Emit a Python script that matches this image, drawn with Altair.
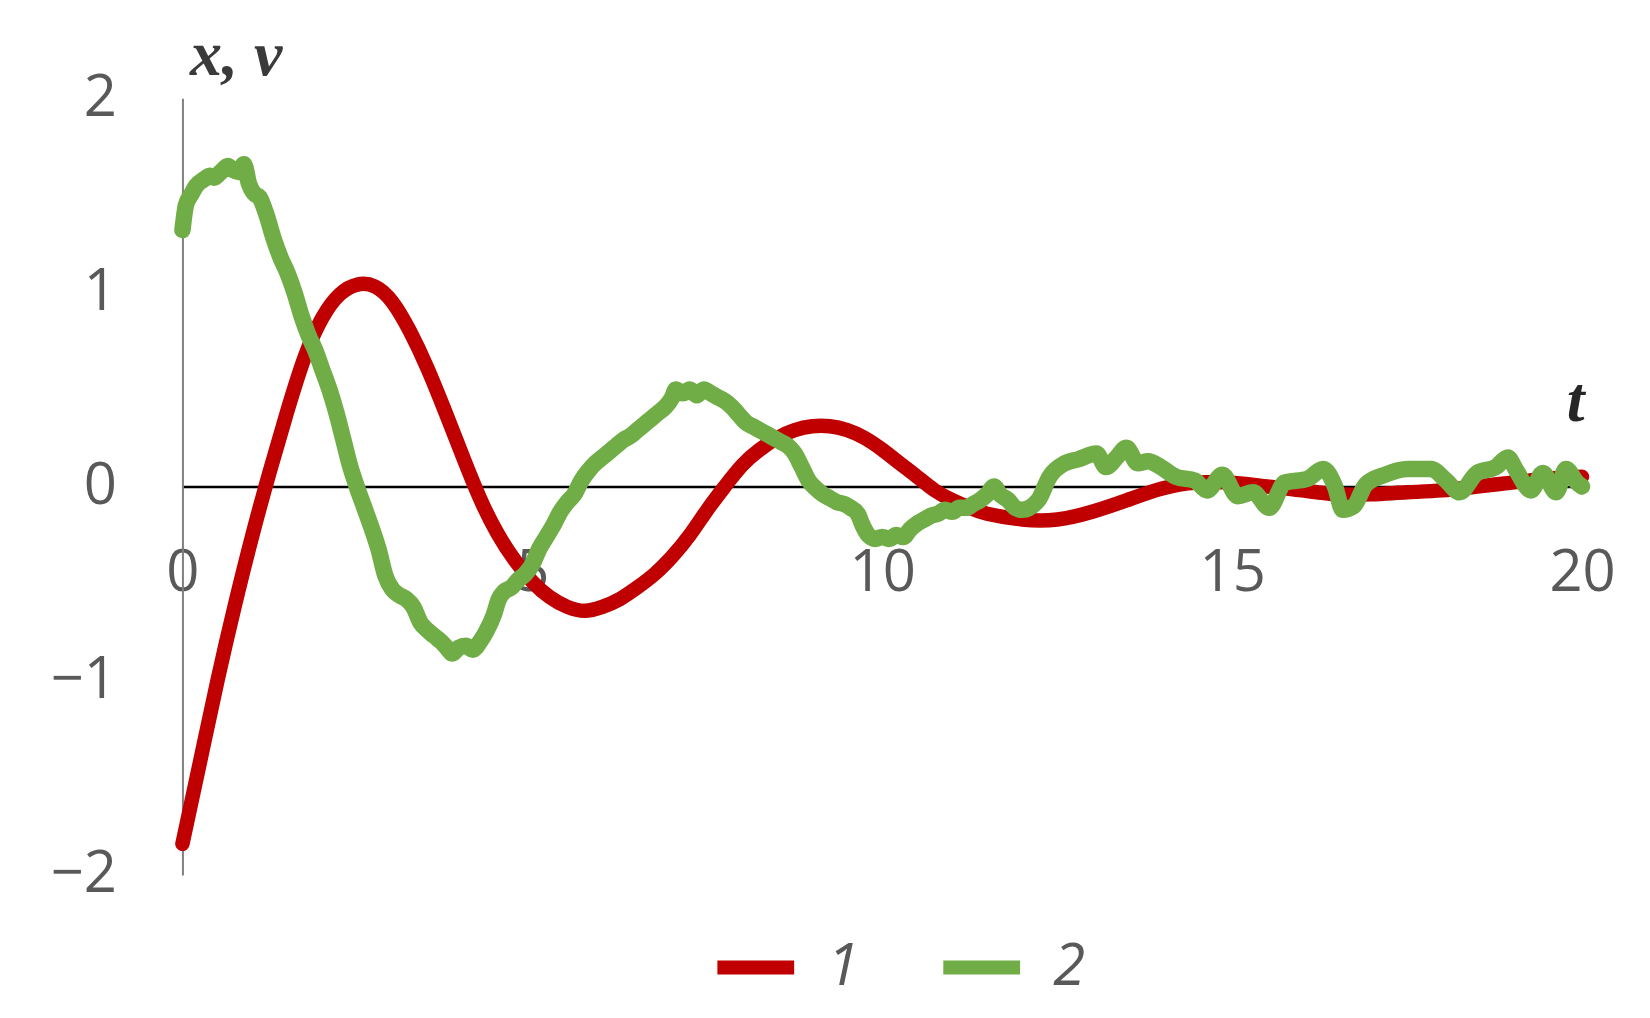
import altair as alt
import pandas as pd

# ---- data ----
red_t = [0.0, 0.25, 0.5, 0.75, 1.0, 1.25, 1.5, 1.75, 2.0, 2.25, 2.5, 2.75, 3.0, 3.25, 3.5,
         3.75, 4.0, 4.25, 4.5, 4.75, 5.0, 5.25, 5.5, 5.75, 6.0, 6.25, 6.5, 6.75, 7.0, 7.25,
         7.5, 7.75, 8.0, 8.25, 8.5, 8.75, 9.0, 9.25, 9.5, 9.75, 10.0, 10.25, 10.5, 10.75,
         11.0, 11.25, 11.5, 12.0, 12.5, 13.0, 13.5, 14.0, 14.5, 15.0, 15.5, 16.0, 16.5,
         17.0, 17.5, 18.0, 18.5, 19.0, 19.5, 20.0]
red_v = [-1.84, -1.42, -1.00, -0.61, -0.25, 0.08, 0.39, 0.67, 0.87, 0.99, 1.04, 1.03, 0.95,
         0.80, 0.61, 0.39, 0.16, -0.06, -0.24, -0.38, -0.49, -0.57, -0.62, -0.64, -0.62,
         -0.58, -0.52, -0.45, -0.36, -0.25, -0.12, 0.00, 0.11, 0.19, 0.25, 0.29, 0.31, 0.31,
         0.29, 0.25, 0.19, 0.12, 0.05, -0.02, -0.07, -0.11, -0.14, -0.17, -0.17, -0.13,
         -0.07, -0.01, 0.02, 0.02, 0.00, -0.02, -0.04, -0.04, -0.03, -0.02, 0.00, 0.02,
         0.04, 0.05]

green_t = [0.0, 0.05, 0.12, 0.2, 0.3, 0.4, 0.45, 0.55, 0.65, 0.72, 0.8, 0.88, 0.95, 1.02,
           1.1, 1.2, 1.3, 1.4, 1.5, 1.6, 1.7, 1.8, 1.9, 2.0, 2.1, 2.2, 2.3, 2.4, 2.5, 2.6,
           2.7, 2.8, 2.9, 3.0, 3.1, 3.2, 3.3, 3.4, 3.5, 3.6, 3.7, 3.8, 3.85, 3.95, 4.05,
           4.15, 4.25, 4.35, 4.45, 4.52, 4.6, 4.7, 4.8, 4.9, 5.0, 5.1, 5.2, 5.3, 5.4, 5.5,
           5.6, 5.7, 5.8, 5.9, 6.0, 6.1, 6.2, 6.3, 6.4, 6.5, 6.6, 6.7, 6.8, 6.9, 7.0, 7.05,
           7.15, 7.25, 7.35, 7.45, 7.55, 7.65, 7.75, 7.85, 7.95, 8.05, 8.15, 8.25, 8.35,
           8.45, 8.55, 8.65, 8.75, 8.85, 8.95, 9.05, 9.15, 9.25, 9.35, 9.45, 9.55, 9.65,
           9.72, 9.8, 9.9, 10.0, 10.1, 10.2, 10.3, 10.4, 10.5, 10.6, 10.7, 10.8, 10.9, 11.0,
           11.1, 11.2, 11.3, 11.4, 11.5, 11.6, 11.68, 11.8, 11.9, 12.0, 12.23, 12.39, 12.61,
           12.8, 13.06, 13.2, 13.35, 13.49, 13.65, 13.8, 13.98, 14.2, 14.47, 14.64, 14.86,
           15.08, 15.3, 15.53, 15.75, 16.08, 16.3, 16.47, 16.58, 16.74, 16.91, 17.18, 17.51,
           17.84, 18.06, 18.25, 18.5, 18.77, 18.94, 19.05, 19.27, 19.44, 19.63, 19.77,
           19.93, 20.0]
green_v = [1.32, 1.45, 1.50, 1.55, 1.58, 1.60, 1.59, 1.62, 1.65, 1.63, 1.62, 1.66, 1.56, 1.51,
           1.49, 1.40, 1.28, 1.18, 1.10, 1.00, 0.88, 0.78, 0.70, 0.60, 0.50, 0.38, 0.24, 0.10,
           -0.01, -0.11, -0.21, -0.32, -0.46, -0.53, -0.56, -0.58, -0.62, -0.70, -0.74, -0.77,
           -0.80, -0.84, -0.86, -0.83, -0.82, -0.84, -0.80, -0.74, -0.66, -0.58, -0.54, -0.52,
           -0.48, -0.45, -0.40, -0.32, -0.26, -0.20, -0.13, -0.08, -0.04, 0.03, 0.08, 0.12,
           0.15, 0.18, 0.21, 0.24, 0.26, 0.29, 0.32, 0.35, 0.38, 0.41, 0.46, 0.50, 0.48, 0.50,
           0.47, 0.50, 0.48, 0.46, 0.44, 0.41, 0.37, 0.33, 0.31, 0.29, 0.27, 0.25, 0.23, 0.21,
           0.17, 0.10, 0.03, -0.01, -0.04, -0.06, -0.08, -0.09, -0.11, -0.14, -0.20, -0.25,
           -0.27, -0.26, -0.27, -0.25, -0.26, -0.22, -0.19, -0.17, -0.15, -0.14, -0.12, -0.13,
           -0.11, -0.11, -0.09, -0.07, -0.04, 0.00, -0.04, -0.07, -0.11, -0.12, -0.07, 0.05,
           0.12, 0.14, 0.17, 0.10, 0.15, 0.20, 0.12, 0.13, 0.10, 0.05, 0.03, -0.02, 0.06,
           -0.05, -0.03, -0.11, 0.02, 0.04, 0.09, 0.00, -0.12, -0.10, 0.01, 0.06, 0.09, 0.09,
           0.03, -0.03, 0.07, 0.10, 0.15, 0.09, -0.02, 0.07, -0.03, 0.09, 0.02, 0.00]

series_names = ["1", "2"]
series_colors = ["#C00000", "#70AD47"]
x_ticks = [0, 5, 10, 15, 20]
y_ticks = [-2, -1, 0, 1, 2]

assert len(red_t) == len(red_v)
assert len(green_t) == len(green_v)

df_red = pd.DataFrame({"t": red_t, "v": red_v, "s": "1", "o": range(len(red_t))})
df_green = pd.DataFrame({"t": green_t, "v": green_v, "s": "2", "o": range(len(green_t))})

W, H = 1400, 777
LABEL_FONT = "Open Sans"
GRAY = "#595959"

x_enc = alt.X("t:Q",
              scale=alt.Scale(domain=[0, 20], nice=False),
              axis=alt.Axis(values=x_ticks, ticks=False, grid=False,
                            domainColor="#000000", domainWidth=2.5,
                            offset=-388.5, labelPadding=58, labelFlush=False,
                            labelOverlap=False, labelFont=LABEL_FONT, labelFontSize=58,
                            labelColor=GRAY,
                            title="t", titleFont="Liberation Serif", titleFontSize=64,
                            titleFontWeight="bold", titleFontStyle="italic",
                            titleColor="#262626", titleAngle=0,
                            titleX=1393, titleY=-66, titleAlign="center",
                            titleBaseline="alphabetic"))
y_enc = alt.Y("v:Q",
              scale=alt.Scale(domain=[-2, 2], nice=False, zero=False),
              axis=alt.Axis(values=y_ticks, ticks=False, grid=False,
                            domainColor="#808080", domainWidth=2,
                            labelPadding=66, labelFont=LABEL_FONT, labelFontSize=58,
                            labelColor=GRAY, labelBaseline="middle",
                            labelOverlap=False, labelFlush=False,
                            title="x, v", titleFont="Liberation Serif", titleFontSize=64,
                            titleFontWeight="bold", titleFontStyle="italic",
                            titleColor="#3a3a3a", titleAngle=0,
                            titleX=7, titleY=-24, titleAlign="left",
                            titleBaseline="alphabetic"))
color_enc = alt.Color("s:N",
                      scale=alt.Scale(domain=series_names, range=series_colors),
                      legend=alt.Legend(orient="none", legendX=528, legendY=824,
                                        direction="horizontal", title=None,
                                        symbolType="stroke", symbolSize=5900,
                                        symbolStrokeWidth=14, labelFont=LABEL_FONT,
                                        labelFontSize=58, labelFontStyle="italic",
                                        labelColor=GRAY, labelOffset=26,
                                        columnPadding=56, padding=0))

red_line = alt.Chart(df_red).mark_line(
    strokeWidth=14.5, strokeJoin="round", strokeCap="round", interpolate="natural"
).encode(x=x_enc, y=y_enc, color=color_enc, order="o:Q")

green_line = alt.Chart(df_green).mark_line(
    strokeWidth=16.5, strokeJoin="round", strokeCap="round", interpolate="monotone"
).encode(x=x_enc, y=y_enc, color=color_enc, order="o:Q")

chart = alt.layer(red_line, green_line).properties(
    width=W, height=H,
    autosize=alt.AutoSizeParams(type="none"),
    padding={"left": 174.5, "top": 90, "right": 60, "bottom": 140},
).configure_view(stroke=None)

chart.save("out.html", embed_options={"renderer": "svg", "actions": False})
